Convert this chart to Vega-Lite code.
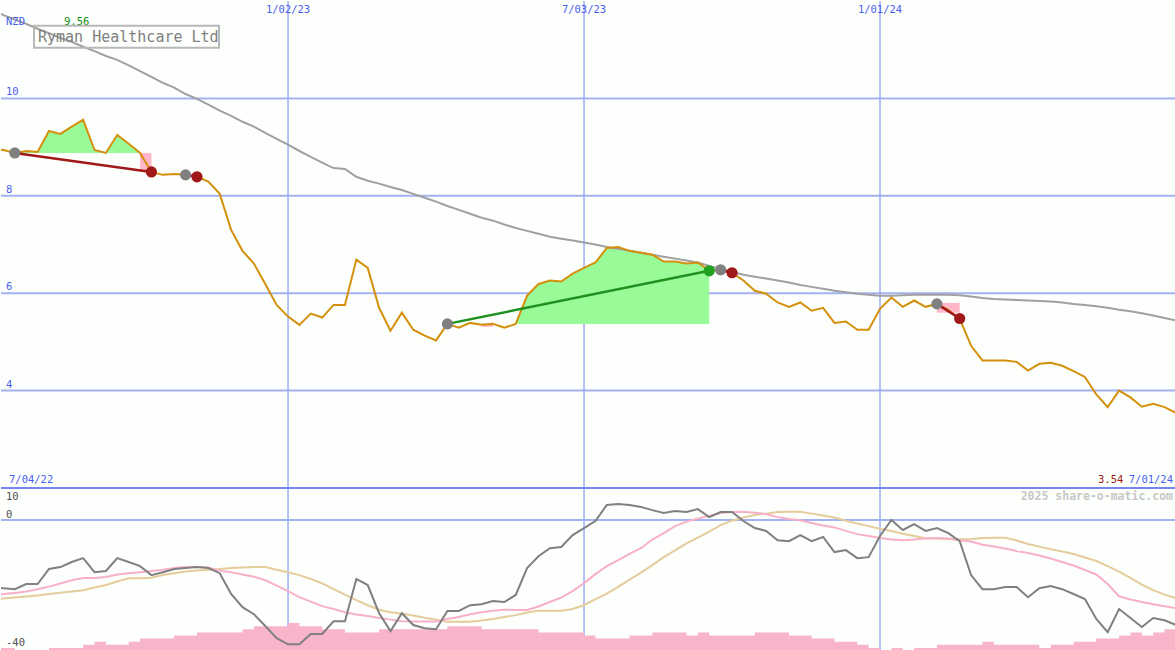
{
"$schema": "https://vega.github.io/schema/vega-lite/v6.json",
"background": "#fcfffc",
"padding": 0,
"bounds": "flush",
"spacing": 0,
"config": {"view": {"stroke": null}, "axis": {"disable": true}, "legend": {"disable": true}, "text": {"font": "DejaVu Sans Mono"}},
"datasets": {
"main": [
{"d":"2022-07-04","p":8.96,"ma":11.82,"o":-20.9,"s":-23.4,"t":-24.8,"v":1},
{"d":"2022-07-11","p":8.94,"ma":11.71,"o":-21.3,"s":-23.1,"t":-24.5,"v":1},
{"d":"2022-07-18","p":8.88,"ma":11.62,"o":-21.6,"s":-22.8,"t":-24.2,"v":0},
{"d":"2022-07-25","p":8.92,"ma":11.53,"o":-20.0,"s":-22.3,"t":-23.9,"v":0},
{"d":"2022-08-01","p":8.90,"ma":11.43,"o":-20.0,"s":-21.6,"t":-23.6,"v":0},
{"d":"2022-08-08","p":9.33,"ma":11.34,"o":-15.3,"s":-20.8,"t":-23.1,"v":1},
{"d":"2022-08-15","p":9.27,"ma":11.24,"o":-14.7,"s":-19.8,"t":-22.7,"v":1},
{"d":"2022-08-22","p":9.42,"ma":11.16,"o":-13.1,"s":-18.8,"t":-22.3,"v":1},
{"d":"2022-08-29","p":9.56,"ma":11.06,"o":-11.9,"s":-18.1,"t":-21.9,"v":2},
{"d":"2022-09-05","p":8.94,"ma":10.97,"o":-16.3,"s":-18.1,"t":-21.1,"v":3},
{"d":"2022-09-12","p":8.88,"ma":10.87,"o":-15.9,"s":-17.8,"t":-20.3,"v":2},
{"d":"2022-09-19","p":9.25,"ma":10.79,"o":-11.9,"s":-17.0,"t":-19.2,"v":2},
{"d":"2022-09-26","p":9.07,"ma":10.68,"o":-13.1,"s":-16.6,"t":-18.2,"v":3},
{"d":"2022-10-03","p":8.88,"ma":10.56,"o":-14.4,"s":-16.3,"t":-18.2,"v":4},
{"d":"2022-10-10","p":8.49,"ma":10.44,"o":-17.2,"s":-15.9,"t":-18.0,"v":4},
{"d":"2022-10-17","p":8.43,"ma":10.32,"o":-16.3,"s":-15.5,"t":-17.2,"v":4},
{"d":"2022-10-24","p":8.45,"ma":10.22,"o":-15.3,"s":-15.0,"t":-16.6,"v":5},
{"d":"2022-10-31","p":8.43,"ma":10.09,"o":-15.0,"s":-14.7,"t":-16.1,"v":5},
{"d":"2022-11-07","p":8.39,"ma":9.99,"o":-14.7,"s":-14.7,"t":-15.8,"v":6},
{"d":"2022-11-14","p":8.29,"ma":9.87,"o":-15.0,"s":-14.8,"t":-15.5,"v":6},
{"d":"2022-11-21","p":8.04,"ma":9.75,"o":-16.6,"s":-15.8,"t":-15.3,"v":6},
{"d":"2022-11-28","p":7.30,"ma":9.64,"o":-23.1,"s":-16.3,"t":-15.0,"v":6},
{"d":"2022-12-05","p":6.87,"ma":9.52,"o":-27.2,"s":-17.0,"t":-14.8,"v":7},
{"d":"2022-12-12","p":6.61,"ma":9.42,"o":-29.4,"s":-17.7,"t":-14.7,"v":8},
{"d":"2022-12-19","p":6.19,"ma":9.29,"o":-33.1,"s":-18.8,"t":-14.7,"v":8},
{"d":"2022-12-26","p":5.76,"ma":9.17,"o":-36.9,"s":-20.5,"t":-15.5,"v":8},
{"d":"2023-01-02","p":5.52,"ma":9.05,"o":-38.8,"s":-22.2,"t":-16.3,"v":9},
{"d":"2023-01-09","p":5.35,"ma":8.92,"o":-38.8,"s":-24.1,"t":-17.2,"v":8},
{"d":"2023-01-16","p":5.58,"ma":8.80,"o":-35.6,"s":-25.5,"t":-18.4,"v":8},
{"d":"2023-01-23","p":5.50,"ma":8.68,"o":-35.6,"s":-26.9,"t":-19.8,"v":7},
{"d":"2023-01-30","p":5.76,"ma":8.57,"o":-31.6,"s":-27.8,"t":-21.6,"v":7},
{"d":"2023-02-06","p":5.76,"ma":8.55,"o":-31.6,"s":-28.8,"t":-23.3,"v":6},
{"d":"2023-02-13","p":6.69,"ma":8.39,"o":-18.4,"s":-29.5,"t":-25.0,"v":6},
{"d":"2023-02-20","p":6.52,"ma":8.31,"o":-20.3,"s":-30.0,"t":-26.6,"v":6},
{"d":"2023-02-27","p":5.70,"ma":8.25,"o":-29.1,"s":-30.6,"t":-28.0,"v":7},
{"d":"2023-03-06","p":5.23,"ma":8.18,"o":-34.7,"s":-31.1,"t":-28.8,"v":7},
{"d":"2023-03-13","p":5.60,"ma":8.12,"o":-29.1,"s":-31.6,"t":-29.3,"v":7},
{"d":"2023-03-20","p":5.25,"ma":8.04,"o":-32.8,"s":-31.7,"t":-29.8,"v":7},
{"d":"2023-03-27","p":5.13,"ma":7.96,"o":-33.8,"s":-31.7,"t":-30.5,"v":7},
{"d":"2023-04-03","p":5.03,"ma":7.88,"o":-34.1,"s":-31.7,"t":-31.1,"v":7},
{"d":"2023-04-10","p":5.37,"ma":7.79,"o":-28.4,"s":-30.9,"t":-31.8,"v":8},
{"d":"2023-04-17","p":5.29,"ma":7.71,"o":-28.4,"s":-30.3,"t":-31.8,"v":8},
{"d":"2023-04-24","p":5.39,"ma":7.63,"o":-26.6,"s":-29.4,"t":-31.8,"v":8},
{"d":"2023-05-01","p":5.35,"ma":7.55,"o":-26.3,"s":-28.8,"t":-31.4,"v":7},
{"d":"2023-05-08","p":5.37,"ma":7.49,"o":-25.3,"s":-28.3,"t":-30.9,"v":7},
{"d":"2023-05-15","p":5.29,"ma":7.41,"o":-25.6,"s":-28.0,"t":-30.3,"v":7},
{"d":"2023-05-22","p":5.37,"ma":7.34,"o":-23.4,"s":-28.1,"t":-29.7,"v":7},
{"d":"2023-05-29","p":5.95,"ma":7.28,"o":-15.0,"s":-28.1,"t":-28.9,"v":7},
{"d":"2023-06-05","p":6.19,"ma":7.22,"o":-11.3,"s":-27.0,"t":-28.3,"v":6},
{"d":"2023-06-12","p":6.26,"ma":7.16,"o":-8.8,"s":-25.6,"t":-28.3,"v":6},
{"d":"2023-06-19","p":6.24,"ma":7.12,"o":-8.4,"s":-24.2,"t":-28.3,"v":6},
{"d":"2023-06-26","p":6.40,"ma":7.08,"o":-4.7,"s":-22.2,"t":-27.8,"v":6},
{"d":"2023-07-03","p":6.52,"ma":7.04,"o":-2.5,"s":-19.7,"t":-26.6,"v":5},
{"d":"2023-07-10","p":6.63,"ma":7.00,"o":-0.3,"s":-16.9,"t":-24.7,"v":4},
{"d":"2023-07-17","p":6.93,"ma":6.95,"o":4.7,"s":-14.4,"t":-23.0,"v":4},
{"d":"2023-07-24","p":6.95,"ma":6.91,"o":5.0,"s":-12.5,"t":-20.9,"v":4},
{"d":"2023-07-31","p":6.87,"ma":6.87,"o":4.7,"s":-10.6,"t":-18.6,"v":5},
{"d":"2023-08-07","p":6.83,"ma":6.83,"o":4.1,"s":-8.8,"t":-16.4,"v":5},
{"d":"2023-08-14","p":6.79,"ma":6.79,"o":3.1,"s":-6.1,"t":-14.1,"v":6},
{"d":"2023-08-21","p":6.65,"ma":6.75,"o":2.2,"s":-4.1,"t":-11.6,"v":6},
{"d":"2023-08-28","p":6.65,"ma":6.71,"o":2.8,"s":-1.9,"t":-9.5,"v":6},
{"d":"2023-09-04","p":6.61,"ma":6.67,"o":2.5,"s":-0.5,"t":-7.3,"v":5},
{"d":"2023-09-11","p":6.63,"ma":6.63,"o":3.4,"s":0.5,"t":-5.5,"v":6},
{"d":"2023-09-18","p":6.46,"ma":6.56,"o":0.9,"s":1.3,"t":-3.6,"v":5},
{"d":"2023-09-25","p":6.48,"ma":6.50,"o":2.5,"s":2.2,"t":-1.6,"v":5},
{"d":"2023-10-02","p":6.42,"ma":6.44,"o":2.5,"s":2.5,"t":-0.2,"v":5},
{"d":"2023-10-09","p":6.26,"ma":6.38,"o":-0.3,"s":2.6,"t":0.8,"v":5},
{"d":"2023-10-16","p":6.05,"ma":6.34,"o":-2.5,"s":2.3,"t":1.6,"v":6},
{"d":"2023-10-23","p":5.99,"ma":6.30,"o":-3.4,"s":1.9,"t":2.0,"v":6},
{"d":"2023-10-30","p":5.81,"ma":6.26,"o":-6.3,"s":0.9,"t":2.5,"v":6},
{"d":"2023-11-06","p":5.72,"ma":6.22,"o":-6.6,"s":0.3,"t":2.6,"v":5},
{"d":"2023-11-13","p":5.81,"ma":6.17,"o":-4.7,"s":-0.1,"t":2.6,"v":5},
{"d":"2023-11-20","p":5.64,"ma":6.13,"o":-6.6,"s":-0.9,"t":2.0,"v":4},
{"d":"2023-11-27","p":5.70,"ma":6.09,"o":-5.3,"s":-1.7,"t":1.4,"v":4},
{"d":"2023-12-04","p":5.39,"ma":6.05,"o":-10.0,"s":-2.3,"t":0.8,"v":3},
{"d":"2023-12-11","p":5.42,"ma":6.02,"o":-9.4,"s":-3.4,"t":-0.2,"v":3},
{"d":"2023-12-18","p":5.25,"ma":5.99,"o":-11.9,"s":-4.4,"t":-1.1,"v":2},
{"d":"2023-12-25","p":5.25,"ma":5.97,"o":-11.6,"s":-5.0,"t":-1.9,"v":1},
{"d":"2024-01-01","p":5.68,"ma":5.95,"o":-5.0,"s":-5.6,"t":-2.7,"v":0},
{"d":"2024-01-08","p":5.91,"ma":5.95,"o":0.0,"s":-6.1,"t":-3.4,"v":1},
{"d":"2024-01-15","p":5.72,"ma":5.96,"o":-3.1,"s":-6.3,"t":-4.3,"v":0},
{"d":"2024-01-22","p":5.85,"ma":5.97,"o":-1.3,"s":-6.1,"t":-5.0,"v":1},
{"d":"2024-01-29","p":5.72,"ma":5.97,"o":-3.4,"s":-5.8,"t":-5.7,"v":1},
{"d":"2024-02-05","p":5.78,"ma":5.97,"o":-2.5,"s":-5.6,"t":-5.8,"v":2},
{"d":"2024-02-12","p":5.66,"ma":5.97,"o":-4.1,"s":-5.8,"t":-5.9,"v":2},
{"d":"2024-02-19","p":5.48,"ma":5.96,"o":-6.6,"s":-6.3,"t":-6.0,"v":2},
{"d":"2024-02-26","p":4.92,"ma":5.93,"o":-17.2,"s":-6.7,"t":-5.9,"v":2},
{"d":"2024-03-04","p":4.62,"ma":5.90,"o":-21.6,"s":-7.7,"t":-5.6,"v":3},
{"d":"2024-03-11","p":4.62,"ma":5.88,"o":-21.6,"s":-8.3,"t":-5.5,"v":2},
{"d":"2024-03-18","p":4.62,"ma":5.87,"o":-20.9,"s":-8.9,"t":-5.5,"v":2},
{"d":"2024-03-25","p":4.59,"ma":5.86,"o":-20.9,"s":-9.7,"t":-6.4,"v":2},
{"d":"2024-04-01","p":4.41,"ma":5.85,"o":-24.1,"s":-10.3,"t":-7.5,"v":2},
{"d":"2024-04-08","p":4.55,"ma":5.84,"o":-21.3,"s":-11.1,"t":-8.3,"v":1},
{"d":"2024-04-15","p":4.57,"ma":5.83,"o":-20.6,"s":-12.0,"t":-9.1,"v":2},
{"d":"2024-04-22","p":4.51,"ma":5.81,"o":-21.6,"s":-13.1,"t":-9.8,"v":2},
{"d":"2024-04-29","p":4.40,"ma":5.78,"o":-23.1,"s":-14.2,"t":-10.6,"v":3},
{"d":"2024-05-06","p":4.28,"ma":5.76,"o":-24.7,"s":-15.6,"t":-11.7,"v":3},
{"d":"2024-05-13","p":3.92,"ma":5.73,"o":-30.9,"s":-17.0,"t":-12.8,"v":4},
{"d":"2024-05-20","p":3.66,"ma":5.70,"o":-35.0,"s":-20.0,"t":-14.4,"v":4},
{"d":"2024-05-27","p":4.00,"ma":5.66,"o":-27.8,"s":-23.8,"t":-16.1,"v":5},
{"d":"2024-06-03","p":3.86,"ma":5.63,"o":-30.6,"s":-24.8,"t":-18.1,"v":6},
{"d":"2024-06-10","p":3.67,"ma":5.59,"o":-33.4,"s":-25.6,"t":-20.2,"v":5},
{"d":"2024-06-17","p":3.73,"ma":5.54,"o":-30.6,"s":-26.3,"t":-21.9,"v":6},
{"d":"2024-06-24","p":3.66,"ma":5.49,"o":-31.3,"s":-26.9,"t":-23.3,"v":7},
{"d":"2024-07-01","p":3.54,"ma":5.44,"o":-32.8,"s":-27.5,"t":-24.4,"v":7}
],
"green": [
{"d":"2022-07-18","seg":"A","top":8.88,"base":8.88},
{"d":"2022-07-25","seg":"A","top":8.92,"base":8.88},
{"d":"2022-08-01","seg":"A","top":8.90,"base":8.88},
{"d":"2022-08-08","seg":"A","top":9.33,"base":8.88},
{"d":"2022-08-15","seg":"A","top":9.27,"base":8.88},
{"d":"2022-08-22","seg":"A","top":9.42,"base":8.88},
{"d":"2022-08-29","seg":"A","top":9.56,"base":8.88},
{"d":"2022-09-05","seg":"A","top":8.94,"base":8.88},
{"d":"2022-09-12","seg":"A","top":8.88,"base":8.88},
{"d":"2022-09-19","seg":"A","top":9.25,"base":8.88},
{"d":"2022-09-26","seg":"A","top":9.07,"base":8.88},
{"d":"2022-10-03","seg":"A","top":8.88,"base":8.88},
{"d":"2023-04-10","seg":"B","top":5.37,"base":5.37},
{"d":"2023-04-17","seg":"B","top":5.37,"base":5.37},
{"d":"2023-04-24","seg":"B","top":5.39,"base":5.37},
{"d":"2023-05-01","seg":"B","top":5.37,"base":5.37},
{"d":"2023-05-08","seg":"B","top":5.37,"base":5.37},
{"d":"2023-05-15","seg":"B","top":5.37,"base":5.37},
{"d":"2023-05-22","seg":"B","top":5.37,"base":5.37},
{"d":"2023-05-29","seg":"B","top":5.95,"base":5.37},
{"d":"2023-06-05","seg":"B","top":6.19,"base":5.37},
{"d":"2023-06-12","seg":"B","top":6.26,"base":5.37},
{"d":"2023-06-19","seg":"B","top":6.24,"base":5.37},
{"d":"2023-06-26","seg":"B","top":6.40,"base":5.37},
{"d":"2023-07-03","seg":"B","top":6.52,"base":5.37},
{"d":"2023-07-10","seg":"B","top":6.63,"base":5.37},
{"d":"2023-07-17","seg":"B","top":6.93,"base":5.37},
{"d":"2023-07-24","seg":"B","top":6.95,"base":5.37},
{"d":"2023-07-31","seg":"B","top":6.87,"base":5.37},
{"d":"2023-08-07","seg":"B","top":6.83,"base":5.37},
{"d":"2023-08-14","seg":"B","top":6.79,"base":5.37},
{"d":"2023-08-21","seg":"B","top":6.65,"base":5.37},
{"d":"2023-08-28","seg":"B","top":6.65,"base":5.37},
{"d":"2023-09-04","seg":"B","top":6.61,"base":5.37},
{"d":"2023-09-11","seg":"B","top":6.63,"base":5.37},
{"d":"2023-09-18","seg":"B","top":6.46,"base":5.37}
],
"pink": [
{"d1":"2022-10-03","d2":"2022-10-10","top":8.88,"bot":8.49},
{"d1":"2022-10-31","d2":"2022-11-07","top":8.43,"bot":8.39},
{"d1":"2023-05-01","d2":"2023-05-08","top":5.37,"bot":5.31},
{"d1":"2023-09-25","d2":"2023-10-02","top":6.48,"bot":6.42},
{"d1":"2024-02-05","d2":"2024-02-19","top":5.80,"bot":5.60}
],
"trend": [
{"d":"2022-07-18","pr":8.88,"seg":"A","kind":"loss"},
{"d":"2022-10-10","pr":8.49,"seg":"A","kind":"loss"},
{"d":"2022-10-31","pr":8.43,"seg":"A2","kind":"loss"},
{"d":"2022-11-07","pr":8.39,"seg":"A2","kind":"loss"},
{"d":"2023-04-10","pr":5.37,"seg":"B","kind":"gain"},
{"d":"2023-09-18","pr":6.46,"seg":"B","kind":"gain"},
{"d":"2023-09-25","pr":6.48,"seg":"B2","kind":"loss"},
{"d":"2023-10-02","pr":6.42,"seg":"B2","kind":"loss"},
{"d":"2024-02-05","pr":5.78,"seg":"C","kind":"loss"},
{"d":"2024-02-19","pr":5.48,"seg":"C","kind":"loss"}
],
"marks": [
{"d":"2022-07-18","pr":8.88,"kind":"entry"},
{"d":"2022-10-10","pr":8.49,"kind":"loss"},
{"d":"2022-10-31","pr":8.43,"kind":"entry"},
{"d":"2022-11-07","pr":8.39,"kind":"loss"},
{"d":"2023-04-10","pr":5.37,"kind":"entry"},
{"d":"2023-09-18","pr":6.46,"kind":"gain"},
{"d":"2023-09-25","pr":6.48,"kind":"entry"},
{"d":"2023-10-02","pr":6.42,"kind":"loss"},
{"d":"2024-02-05","pr":5.78,"kind":"entry"},
{"d":"2024-02-19","pr":5.48,"kind":"loss"}
],
"vgrid": [
{"g":"2023-01-02","lab":"1/02/23"},
{"g":"2023-07-03","lab":"7/03/23"},
{"g":"2024-01-01","lab":"1/01/24"}
],
"hgrid": [{"h":4},{"h":6},{"h":8},{"h":10}]
},
"vconcat": [
{
"width": 1175, "height": 487,
"layer": [
{"data": {"name": "hgrid"}, "mark": {"type": "rule", "color": "#a4b2f2", "strokeWidth": 2},
 "encoding": {"y": {"field": "h", "type": "quantitative", "scale": {"domain": [2, 12], "nice": false, "zero": false}, "axis": null}}},
{"data": {"name": "vgrid"}, "mark": {"type": "rule", "color": "#98a8f4", "strokeWidth": 1.4},
 "encoding": {"x": {"field": "g", "type": "temporal", "scale": {"domain": [{"year":2022,"month":7,"date":9,"hours":12,"utc":true},{"year":2024,"month":7,"date":1,"utc":true}], "nice": false}, "axis": null}}},
{"data": {"name": "green"}, "mark": {"type": "area", "color": "#98fb98", "opacity": 1, "clip": true},
 "encoding": {
  "x": {"field": "d", "type": "temporal", "scale": {"domain": [{"year":2022,"month":7,"date":9,"hours":12,"utc":true},{"year":2024,"month":7,"date":1,"utc":true}], "nice": false}, "axis": null},
  "y": {"field": "top", "type": "quantitative", "scale": {"domain": [2, 12], "nice": false, "zero": false}, "axis": null},
  "y2": {"field": "base"},
  "detail": {"field": "seg", "type": "nominal"}}},
{"data": {"name": "pink"}, "mark": {"type": "rect", "color": "#ffb6c8", "opacity": 1, "clip": true},
 "encoding": {
  "x": {"field": "d1", "type": "temporal", "scale": {"domain": [{"year":2022,"month":7,"date":9,"hours":12,"utc":true},{"year":2024,"month":7,"date":1,"utc":true}], "nice": false}, "axis": null},
  "x2": {"field": "d2"},
  "y": {"field": "top", "type": "quantitative", "scale": {"domain": [2, 12], "nice": false, "zero": false}, "axis": null},
  "y2": {"field": "bot"}}},
{"data": {"name": "main"}, "mark": {"type": "line", "color": "#a0a0a0", "strokeWidth": 2, "clip": true},
 "encoding": {
  "x": {"field": "d", "type": "temporal", "scale": {"domain": [{"year":2022,"month":7,"date":9,"hours":12,"utc":true},{"year":2024,"month":7,"date":1,"utc":true}], "nice": false}, "axis": null},
  "y": {"field": "ma", "type": "quantitative", "scale": {"domain": [2, 12], "nice": false, "zero": false}, "axis": null}}},
{"data": {"name": "main"}, "mark": {"type": "line", "color": "#d4900c", "strokeWidth": 2, "clip": true},
 "encoding": {
  "x": {"field": "d", "type": "temporal", "scale": {"domain": [{"year":2022,"month":7,"date":9,"hours":12,"utc":true},{"year":2024,"month":7,"date":1,"utc":true}], "nice": false}, "axis": null},
  "y": {"field": "p", "type": "quantitative", "scale": {"domain": [2, 12], "nice": false, "zero": false}, "axis": null}}},
{"data": {"name": "trend"}, "mark": {"type": "line", "strokeWidth": 2.5, "clip": true},
 "encoding": {
  "x": {"field": "d", "type": "temporal", "scale": {"domain": [{"year":2022,"month":7,"date":9,"hours":12,"utc":true},{"year":2024,"month":7,"date":1,"utc":true}], "nice": false}, "axis": null},
  "y": {"field": "pr", "type": "quantitative", "scale": {"domain": [2, 12], "nice": false, "zero": false}, "axis": null},
  "detail": {"field": "seg", "type": "nominal"},
  "color": {"field": "kind", "type": "nominal", "scale": {"domain": ["loss", "gain"], "range": ["#a01818", "#209020"]}, "legend": null}}},
{"data": {"name": "marks"}, "mark": {"type": "point", "filled": true, "opacity": 1, "size": 125, "clip": true},
 "encoding": {
  "x": {"field": "d", "type": "temporal", "scale": {"domain": [{"year":2022,"month":7,"date":9,"hours":12,"utc":true},{"year":2024,"month":7,"date":1,"utc":true}], "nice": false}, "axis": null},
  "y": {"field": "pr", "type": "quantitative", "scale": {"domain": [2, 12], "nice": false, "zero": false}, "axis": null},
  "fill": {"field": "kind", "type": "nominal", "scale": {"domain": ["entry", "loss", "gain"], "range": ["#808080", "#a01818", "#20a020"]}, "legend": null}}},
{"data": {"name": "hgrid"}, "mark": {"type": "text", "align": "left", "baseline": "middle", "dy": -6, "fontSize": 10.5, "color": "#4b5ef0"},
 "encoding": {
  "x": {"datum": {"year":2022,"month":7,"date":12,"hours":14,"utc":true}, "type": "temporal", "scale": {"domain": [{"year":2022,"month":7,"date":9,"hours":12,"utc":true},{"year":2024,"month":7,"date":1,"utc":true}], "nice": false}, "axis": null},
  "y": {"field": "h", "type": "quantitative", "scale": {"domain": [2, 12], "nice": false, "zero": false}, "axis": null},
  "text": {"field": "h", "type": "quantitative"}}},
{"data": {"name": "vgrid"}, "mark": {"type": "text", "align": "center", "baseline": "middle", "dy": 9, "fontSize": 10.5, "color": "#4b5ef0"},
 "encoding": {
  "x": {"field": "g", "type": "temporal", "scale": {"domain": [{"year":2022,"month":7,"date":9,"hours":12,"utc":true},{"year":2024,"month":7,"date":1,"utc":true}], "nice": false}, "axis": null},
  "y": {"datum": 12, "type": "quantitative", "scale": {"domain": [2, 12], "nice": false, "zero": false}, "axis": null},
  "text": {"field": "lab", "type": "nominal"}}},
{"data": {"values": [{}]}, "mark": {"type": "text", "text": "NZD", "align": "left", "baseline": "middle", "dy": 21, "fontSize": 10.5, "color": "#4b5ef0"},
 "encoding": {
  "x": {"datum": {"year":2022,"month":7,"date":12,"hours":14,"utc":true}, "type": "temporal", "scale": {"domain": [{"year":2022,"month":7,"date":9,"hours":12,"utc":true},{"year":2024,"month":7,"date":1,"utc":true}], "nice": false}, "axis": null},
  "y": {"datum": 12, "type": "quantitative", "scale": {"domain": [2, 12], "nice": false, "zero": false}, "axis": null}}},
{"data": {"values": [{}]}, "mark": {"type": "text", "text": "9.56", "align": "left", "baseline": "middle", "dy": 21, "fontSize": 10.5, "color": "#109010"},
 "encoding": {
  "x": {"datum": {"year":2022,"month":8,"date":17,"hours":6,"utc":true}, "type": "temporal", "scale": {"domain": [{"year":2022,"month":7,"date":9,"hours":12,"utc":true},{"year":2024,"month":7,"date":1,"utc":true}], "nice": false}, "axis": null},
  "y": {"datum": 12, "type": "quantitative", "scale": {"domain": [2, 12], "nice": false, "zero": false}, "axis": null}}},
{"data": {"values": [{}]}, "mark": {"type": "rect", "fillOpacity": 0, "stroke": "#b8b8b8", "strokeWidth": 2},
 "encoding": {
  "x": {"datum": {"year":2022,"month":7,"date":29,"hours":19,"utc":true}, "type": "temporal", "scale": {"domain": [{"year":2022,"month":7,"date":9,"hours":12,"utc":true},{"year":2024,"month":7,"date":1,"utc":true}], "nice": false}, "axis": null},
  "x2": {"datum": {"year":2022,"month":11,"date":20,"hours":13,"utc":true}},
  "y": {"datum": 11.49, "type": "quantitative", "scale": {"domain": [2, 12], "nice": false, "zero": false}, "axis": null},
  "y2": {"datum": 11.04}}},
{"data": {"values": [{}]}, "mark": {"type": "text", "text": "Ryman Healthcare Ltd", "align": "left", "baseline": "middle", "dy": 36, "fontSize": 15, "color": "#808080"},
 "encoding": {
  "x": {"datum": {"year":2022,"month":8,"date":1,"hours":6,"utc":true}, "type": "temporal", "scale": {"domain": [{"year":2022,"month":7,"date":9,"hours":12,"utc":true},{"year":2024,"month":7,"date":1,"utc":true}], "nice": false}, "axis": null},
  "y": {"datum": 12, "type": "quantitative", "scale": {"domain": [2, 12], "nice": false, "zero": false}, "axis": null}}},
{"data": {"values": [{}]}, "mark": {"type": "text", "text": "7/04/22", "align": "left", "baseline": "middle", "dy": -8, "fontSize": 10.5, "color": "#4b5ef0"},
 "encoding": {
  "x": {"datum": {"year":2022,"month":7,"date":14,"hours":10,"utc":true}, "type": "temporal", "scale": {"domain": [{"year":2022,"month":7,"date":9,"hours":12,"utc":true},{"year":2024,"month":7,"date":1,"utc":true}], "nice": false}, "axis": null},
  "y": {"datum": 2, "type": "quantitative", "scale": {"domain": [2, 12], "nice": false, "zero": false}, "axis": null}}},
{"data": {"values": [{}]}, "mark": {"type": "text", "text": "3.54", "align": "right", "baseline": "middle", "dy": -8.5, "fontSize": 10.5, "color": "#a01818"},
 "encoding": {
  "x": {"datum": {"year":2024,"month":5,"date":29,"hours":14,"utc":true}, "type": "temporal", "scale": {"domain": [{"year":2022,"month":7,"date":9,"hours":12,"utc":true},{"year":2024,"month":7,"date":1,"utc":true}], "nice": false}, "axis": null},
  "y": {"datum": 2, "type": "quantitative", "scale": {"domain": [2, 12], "nice": false, "zero": false}, "axis": null}}},
{"data": {"values": [{}]}, "mark": {"type": "text", "text": "7/01/24", "align": "right", "baseline": "middle", "dy": -8.5, "fontSize": 10.5, "color": "#4b5ef0"},
 "encoding": {
  "x": {"datum": {"year":2024,"month":6,"date":29,"hours":4,"utc":true}, "type": "temporal", "scale": {"domain": [{"year":2022,"month":7,"date":9,"hours":12,"utc":true},{"year":2024,"month":7,"date":1,"utc":true}], "nice": false}, "axis": null},
  "y": {"datum": 2, "type": "quantitative", "scale": {"domain": [2, 12], "nice": false, "zero": false}, "axis": null}}}
]
},
{
"width": 1175, "height": 163,
"resolve": {"scale": {"y": "independent"}},
"layer": [
{"data": {"name": "vgrid"}, "mark": {"type": "rule", "color": "#98a8f4", "strokeWidth": 1.4},
 "encoding": {"x": {"field": "g", "type": "temporal", "scale": {"domain": [{"year":2022,"month":7,"date":9,"hours":12,"utc":true},{"year":2024,"month":7,"date":1,"utc":true}], "nice": false}, "axis": null}}},
{"data": {"values": [{}]}, "mark": {"type": "rule", "color": "#a4b2f2", "strokeWidth": 2},
 "encoding": {"y": {"datum": 0, "type": "quantitative", "scale": {"domain": [-40.9, 10], "nice": false, "zero": false}, "axis": null}}},
{"data": {"name": "main"}, "mark": {"type": "area", "color": "#f8b4c8", "opacity": 1, "interpolate": "step-after", "clip": true},
 "encoding": {
  "x": {"field": "d", "type": "temporal", "scale": {"domain": [{"year":2022,"month":7,"date":9,"hours":12,"utc":true},{"year":2024,"month":7,"date":1,"utc":true}], "nice": false}, "axis": null},
  "y": {"field": "v", "type": "quantitative", "scale": {"domain": [0, 52.6], "nice": false, "zero": false}, "axis": null}}},
{"data": {"name": "main"}, "mark": {"type": "line", "color": "#e4cc9c", "strokeWidth": 2, "clip": true},
 "encoding": {
  "x": {"field": "d", "type": "temporal", "scale": {"domain": [{"year":2022,"month":7,"date":9,"hours":12,"utc":true},{"year":2024,"month":7,"date":1,"utc":true}], "nice": false}, "axis": null},
  "y": {"field": "t", "type": "quantitative", "scale": {"domain": [-40.9, 10], "nice": false, "zero": false}, "axis": null}}},
{"data": {"name": "main"}, "mark": {"type": "line", "color": "#f8b0c8", "strokeWidth": 2, "clip": true},
 "encoding": {
  "x": {"field": "d", "type": "temporal", "scale": {"domain": [{"year":2022,"month":7,"date":9,"hours":12,"utc":true},{"year":2024,"month":7,"date":1,"utc":true}], "nice": false}, "axis": null},
  "y": {"field": "s", "type": "quantitative", "scale": {"domain": [-40.9, 10], "nice": false, "zero": false}, "axis": null}}},
{"data": {"name": "main"}, "mark": {"type": "line", "color": "#808080", "strokeWidth": 2, "clip": true},
 "encoding": {
  "x": {"field": "d", "type": "temporal", "scale": {"domain": [{"year":2022,"month":7,"date":9,"hours":12,"utc":true},{"year":2024,"month":7,"date":1,"utc":true}], "nice": false}, "axis": null},
  "y": {"field": "o", "type": "quantitative", "scale": {"domain": [-40.9, 10], "nice": false, "zero": false}, "axis": null}}},
{"data": {"values": [{}]}, "mark": {"type": "rule", "color": "#7484f0", "strokeWidth": 2},
 "encoding": {"y": {"datum": 10, "type": "quantitative", "scale": {"domain": [-40.9, 10], "nice": false, "zero": false}, "axis": null}}},
{"data": {"values": [{"lab": "10", "val": 10}]}, "mark": {"type": "text", "align": "left", "baseline": "middle", "dy": 9, "fontSize": 10.5, "color": "#505050"},
 "encoding": {
  "x": {"datum": {"year":2022,"month":7,"date":12,"hours":14,"utc":true}, "type": "temporal", "scale": {"domain": [{"year":2022,"month":7,"date":9,"hours":12,"utc":true},{"year":2024,"month":7,"date":1,"utc":true}], "nice": false}, "axis": null},
  "y": {"field": "val", "type": "quantitative", "scale": {"domain": [-40.9, 10], "nice": false, "zero": false}, "axis": null},
  "text": {"field": "lab", "type": "nominal"}}},
{"data": {"values": [{"lab": "0", "val": 0}, {"lab": "-40", "val": -40}]}, "mark": {"type": "text", "align": "left", "baseline": "middle", "dy": -5, "fontSize": 10.5, "color": "#505050"},
 "encoding": {
  "x": {"datum": {"year":2022,"month":7,"date":12,"hours":14,"utc":true}, "type": "temporal", "scale": {"domain": [{"year":2022,"month":7,"date":9,"hours":12,"utc":true},{"year":2024,"month":7,"date":1,"utc":true}], "nice": false}, "axis": null},
  "y": {"field": "val", "type": "quantitative", "scale": {"domain": [-40.9, 10], "nice": false, "zero": false}, "axis": null},
  "text": {"field": "lab", "type": "nominal"}}},
{"data": {"values": [{}]}, "mark": {"type": "text", "text": "2025 share-o-matic.com", "align": "right", "baseline": "middle", "dy": 9, "fontSize": 11.5, "fontWeight": "bold", "color": "#c8c8c8"},
 "encoding": {
  "x": {"datum": {"year":2024,"month":6,"date":29,"hours":4,"utc":true}, "type": "temporal", "scale": {"domain": [{"year":2022,"month":7,"date":9,"hours":12,"utc":true},{"year":2024,"month":7,"date":1,"utc":true}], "nice": false}, "axis": null},
  "y": {"datum": 10, "type": "quantitative", "scale": {"domain": [-40.9, 10], "nice": false, "zero": false}, "axis": null}}}
]
}
]
}
